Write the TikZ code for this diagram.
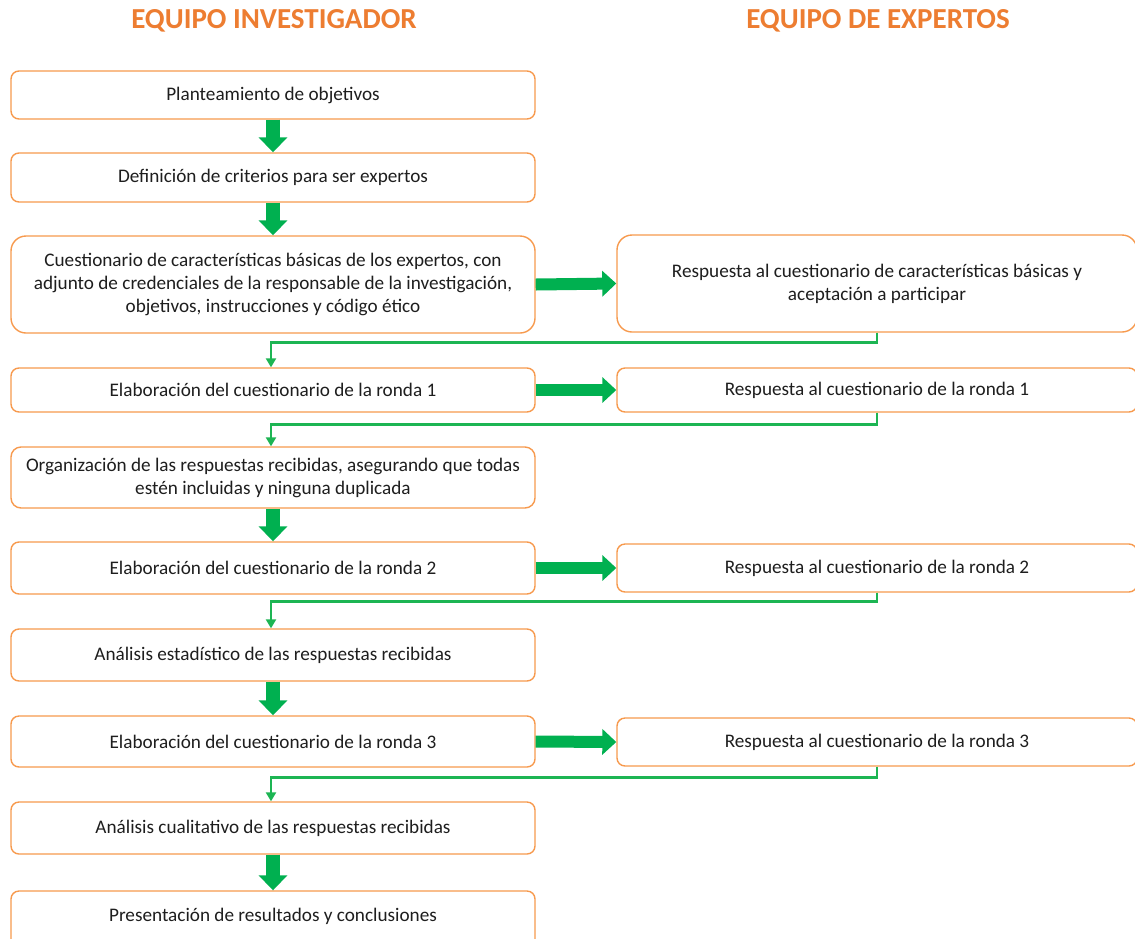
\documentclass[tikz,border=0pt]{standalone}
\usepackage{fontspec}
\setmainfont{Carlito}
\usetikzlibrary{arrows.meta}
\definecolor{boxor}{HTML}{F79A4E}
\definecolor{titleor}{HTML}{ED7D31}
\definecolor{fatgreen}{HTML}{00B050}
\definecolor{thingreen}{HTML}{1DB553}
\definecolor{txt}{HTML}{1E1E1E}
\tikzset{
  box/.style={draw=boxor, line width=1.4pt, fill=white, inner sep=0pt, align=center,
    text=txt, font=\fontsize{19.2}{23}\selectfont},
  lbox/.style={box, minimum width=524pt},
  rbox/.style={box, minimum width=520pt},
  title/.style={text=titleor, font=\fontsize{29}{32}\selectfont\bfseries},
  fatv/.style={draw=fatgreen, line width=14pt, -{Triangle[width=28pt,length=15pt]}},
  fath/.style={draw=fatgreen, line width=12pt, -{Triangle[width=25pt,length=14pt]}},
  fb/.style={draw=thingreen, line width=2.6pt, -{Triangle[width=10pt,length=9pt]}},
}
\begin{document}
\begin{tikzpicture}[x=1pt,y=-1pt]
\clip (0,0) rectangle (1135,938);
\fill[white] (0,0) rectangle (1135,938);
\node[title] (t1) at (274,21) {EQUIPO INVESTIGADOR};
\node[title] (t2) at (878,21) {EQUIPO DE EXPERTOS};
% left column
\node[lbox, minimum height=48pt, rounded corners=8pt] (b1) at (273,95) {Planteamiento de objetivos};
\node[lbox, minimum height=49pt, rounded corners=8pt] (b2) at (273,177.5) {Definición de criterios para ser expertos};
\node[lbox, minimum height=97pt, rounded corners=15pt] (b3) at (273,284.5) {Cuestionario de características básicas de los expertos, con\\adjunto de credenciales de la responsable de la investigación,\\objetivos, instrucciones y código ético};
\node[lbox, minimum height=44pt, rounded corners=8pt] (b4) at (273,390) {Elaboración del cuestionario de la ronda 1};
\node[lbox, minimum height=61pt, rounded corners=10pt] (b5) at (273,477.5) {Organización de las respuestas recibidas, asegurando que todas\\estén incluidas y ninguna duplicada};
\node[lbox, minimum height=52pt, rounded corners=8pt] (b6) at (273,568) {Elaboración del cuestionario de la ronda 2};
\node[lbox, minimum height=52pt, rounded corners=8pt] (b7) at (273,655) {Análisis estadístico de las respuestas recibidas};
\node[lbox, minimum height=51pt, rounded corners=8pt] (b8) at (273,741.5) {Elaboración del cuestionario de la ronda 3};
\node[lbox, minimum height=52pt, rounded corners=8pt] (b9) at (273,828) {Análisis cualitativo de las respuestas recibidas};
\node[lbox, minimum height=56pt, rounded corners=8pt, text depth=0pt] (b10) at (273,919) {\raisebox{8pt}{Presentación de resultados y conclusiones}};
% right column
\node[rbox, minimum height=97pt, rounded corners=15pt] (r1) at (877,283.5) {Respuesta al cuestionario de características básicas y\\aceptación a participar};
\node[rbox, minimum height=44pt, rounded corners=8pt] (r2) at (877,390) {Respuesta al cuestionario de la ronda 1};
\node[rbox, minimum height=48pt, rounded corners=8pt] (r3) at (877,568) {Respuesta al cuestionario de la ronda 2};
\node[rbox, minimum height=48pt, rounded corners=8pt] (r4) at (877,742) {Respuesta al cuestionario de la ronda 3};
% vertical fat arrows
\draw[fatv] (b1.south) -- (b2.north);
\draw[fatv] (b2.south) -- (b3.north);
\draw[fatv] (b5.south) -- (b6.north);
\draw[fatv] (b7.south) -- (b8.north);
\draw[fatv] (b9.south) -- (b10.north);
% horizontal fat arrows
\draw[fath] (b3.east) -- (r1.west);
\draw[fath] (b4.east) -- (r2.west);
\draw[fath] (b6.east) -- (r3.west);
\draw[fath] (b8.east) -- (r4.west);
% feedback connectors
\draw[fb] (r1.south) -- ++(0,10) -| ([xshift=-2pt]b4.north);
\draw[fb] (r2.south) -- ++(0,12) -| ([xshift=-2pt]b5.north);
\draw[fb] (r3.south) -- ++(0,9) -| ([xshift=-2pt]b7.north);
\draw[fb] (r4.south) -- ++(0,11) -| ([xshift=-2pt]b9.north);
\end{tikzpicture}
\end{document}
